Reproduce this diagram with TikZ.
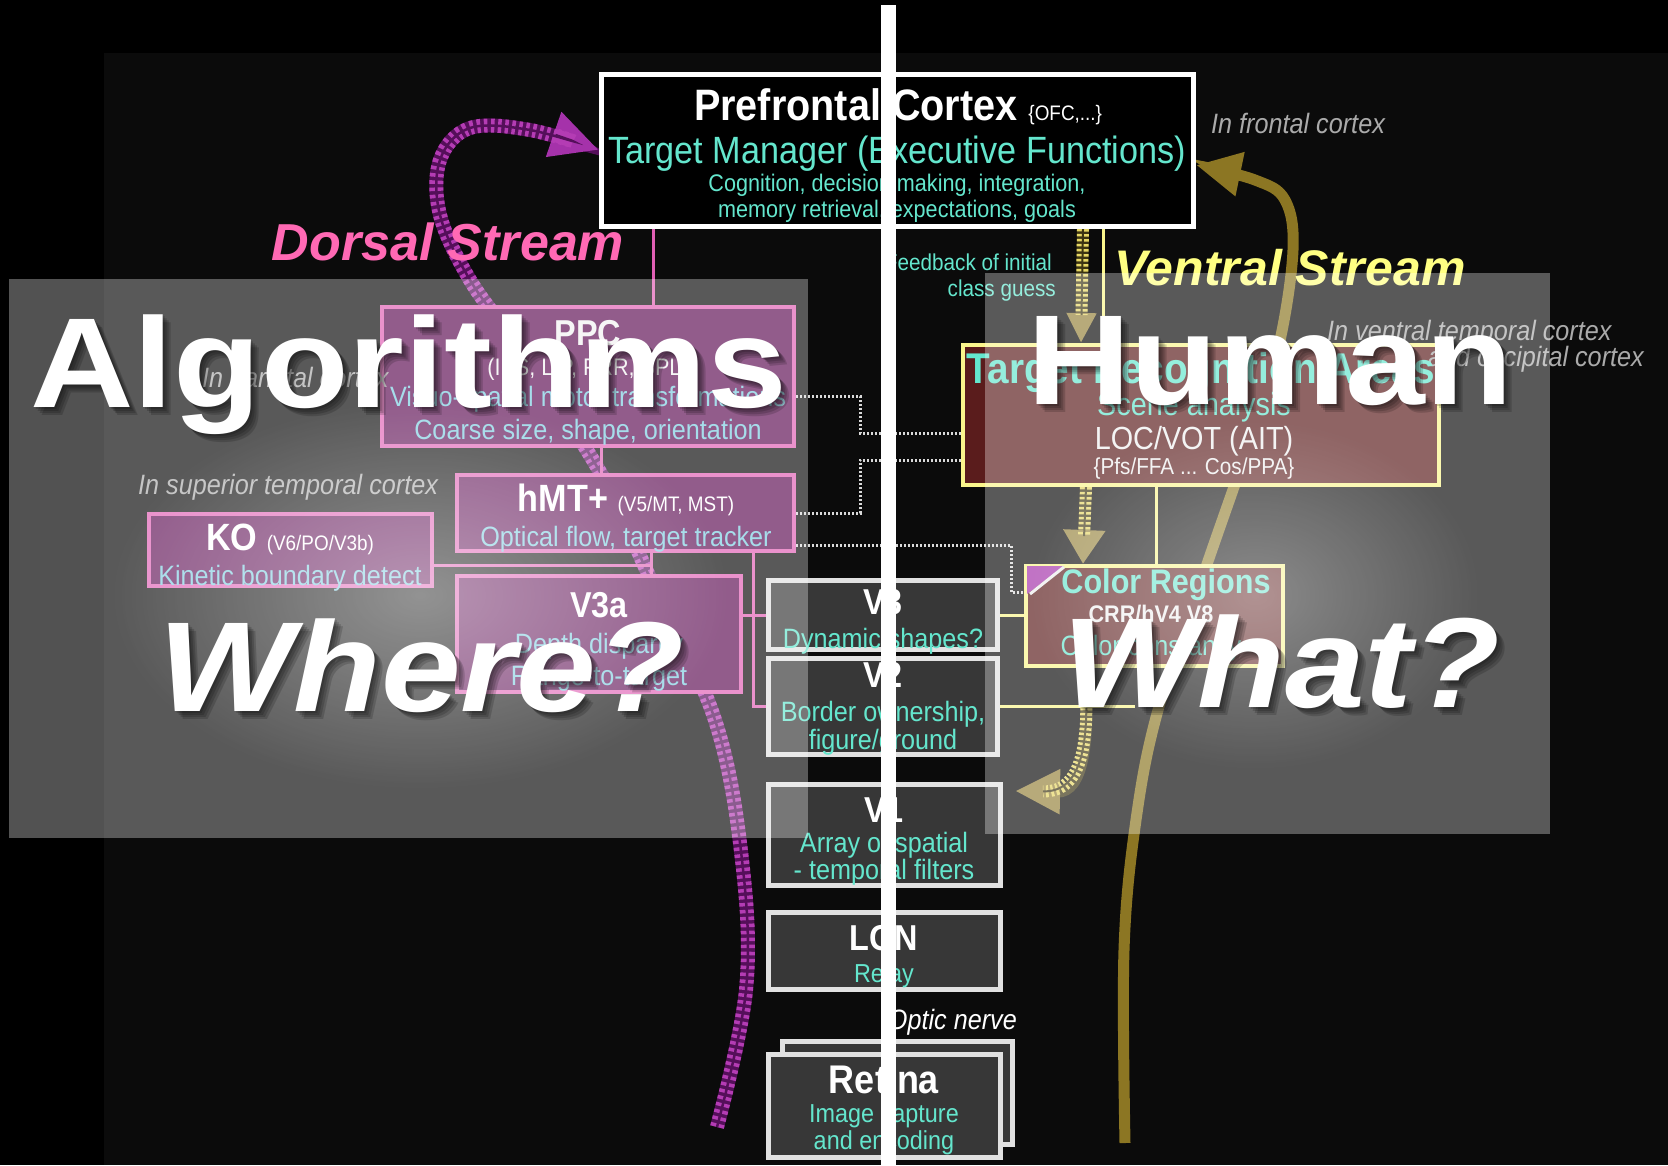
\documentclass[tikz,border=0pt]{standalone}
\usepackage{fontspec}
\setmainfont{Liberation Sans}
\newfontfamily\nar[FakeStretch=0.9]{Liberation Sans}
\newfontfamily\wide[FakeStretch=1.12]{Liberation Sans}
\usetikzlibrary{arrows.meta,fadings}
\pgfdeclarelayer{back}
\pgfdeclarelayer{over}
\pgfdeclarelayer{top}
\pgfsetlayers{back,main,over,top}
\newcommand\fsz[1]{\fontsize{#1}{#1}\selectfont}
\definecolor{slide}{RGB}{11,11,11}
\definecolor{pinkB}{RGB}{225,95,180}
\definecolor{pinkF}{RGB}{95,15,85}
\definecolor{pinkT}{RGB}{255,105,180}
\definecolor{yelB}{RGB}{250,245,140}
\definecolor{yelT}{RGB}{255,255,130}
\definecolor{marF}{RGB}{90,28,28}
\definecolor{grayF}{RGB}{55,55,55}
\definecolor{grayB}{RGB}{225,225,225}
\definecolor{cyanT}{RGB}{100,230,205}
\definecolor{lcyan}{RGB}{125,205,225}
\definecolor{labgray}{RGB}{170,170,170}
\definecolor{khaki}{RGB}{140,118,35}
\definecolor{khakiA}{RGB}{150,130,60}
\definecolor{magD}{RGB}{85,15,90}
\definecolor{magL}{RGB}{180,60,180}
\definecolor{magA}{RGB}{165,50,170}
\definecolor{stipD}{RGB}{60,52,18}
\definecolor{stipL}{RGB}{230,215,100}
\tikzfading[name=glowfade, inner color=transparent!0, outer color=transparent!100]
\tikzset{
  pbox/.style={draw=pinkB, fill=pinkF, line width=4pt, inner sep=0pt},
  vbox/.style={draw=grayB, fill=grayF, line width=5pt, inner sep=0pt},
  ybox/.style={draw=yelB, fill=marF, line width=4pt, inner sep=0pt},
  txt/.style={inner sep=0pt, anchor=mid},
  ttl/.style={txt, font=\nar\bfseries\fsz{36}, text=white},
  dsc/.style={txt, font=\nar\fsz{28}, text=cyanT},
  pdsc/.style={txt, font=\nar\fsz{28}, text=lcyan},
  lab/.style={inner sep=0pt, font=\nar\itshape\fsz{28}, text=labgray},
  pinkline/.style={draw=pinkB, line width=3pt},
  yline/.style={draw=yelB, line width=3pt},
  dotline/.style={draw=white!85!black, line width=3pt, dash pattern=on 2pt off 2pt},
  magstip/.style={draw=magD, line width=14pt,
    postaction={draw=magL, line width=14pt, arrows=-, dash pattern=on 3.5pt off 3.5pt, shorten >=46pt},
    postaction={draw=magD, line width=2.5pt, arrows=-, shorten >=46pt}},
  ystip/.style={draw=stipD, line width=12pt,
    postaction={draw=stipL, line width=12pt, arrows=-, dash pattern=on 2.5pt off 2.5pt, shorten >=28pt},
    postaction={draw=stipD, line width=2pt, arrows=-, shorten >=28pt}},
  bigw/.style={inner sep=0pt, anchor=base west, font=\wide\bfseries\fsz{128}},
}
\begin{document}
\begin{tikzpicture}[x=1pt, y=-1pt]
\useasboundingbox (0,0) rectangle (1668,1165);

% ---------- boxes ----------
\node[draw=white, fill=black, line width=5pt, minimum width=592pt, minimum height=152pt, inner sep=0pt] (pfc) at (897.5,150.5) {};
\node[pbox, minimum width=412pt, minimum height=139pt] (ppc) at (588,376.5) {};
\node[pbox, minimum width=337pt, minimum height=76pt] (hmt) at (625.5,513) {};
\node[pbox, minimum width=283pt, minimum height=72pt] (ko) at (290.5,550) {};
\node[pbox, minimum width=284pt, minimum height=116pt] (v3a) at (599,634) {};
\node[vbox, minimum width=229pt, minimum height=69pt] (v3) at (883,615) {};
\node[vbox, minimum width=229pt, minimum height=96pt] (v2) at (883,706.5) {};
\node[vbox, minimum width=232pt, minimum height=101pt] (v1) at (884.5,835) {};
\node[vbox, minimum width=232pt, minimum height=77pt] (lgn) at (884.5,951) {};
\node[vbox, minimum width=230pt, minimum height=103pt] (retb) at (897.5,1093) {};
\node[vbox, minimum width=232pt, minimum height=103pt] (ret) at (884.5,1106) {};
\node[ybox, minimum width=476pt, minimum height=140pt] (tra) at (1201,415) {};
\node[ybox, minimum width=257pt, minimum height=100pt] (col) at (1154.5,616) {};

% corner mark of the colour box
\fill[magA] (1027,566) -- (1064,566) -- (1027,594) -- cycle;
\draw[white!85!gray, line width=3pt] (1030,594) -- (1064,567);

% ---------- solid and dotted links ----------
\draw[pinkline] (pfc.south -| 653,0) -- (ppc.north -| 653,0);
\draw[pinkline] (ppc.south -| 601,0) -- (hmt.north -| 601,0);
\draw[pinkline] (hmt.south -| 651,0) -- (v3a.north -| 651,0);
\draw[pinkline] (ko.east |- 0,565) -- (651,565);
\draw[pinkline] (v3a.east |- 0,615) -- (v3.west |- 0,615);
\draw[pinkline] (hmt.south -| 753,0) -- (753,706) -- (v2.west |- 0,706);
\draw[yline] (pfc.south -| 1103,0) -- (tra.north -| 1103,0);
\draw[yline] (tra.south -| 1156,0) -- (col.north -| 1156,0);
\draw[yline] (v3.east |- 0,615) -- (col.west |- 0,615);
\coordinate (v2end) at (1135,706);
\draw[yline] (v2.east |- 0,706) -- (v2end);
\draw[dotline] (ppc.east |- 0,396) -- (860,396) -- (860,433) -- (tra.west |- 0,433);
\draw[dotline] (hmt.east |- 0,513) -- (860,513) -- (860,460) -- (tra.west |- 0,460);
\draw[dotline] (hmt.east |- 0,545) -- (1011,545) -- (1011,592) -- (col.west |- 0,592);

% ---------- texts ----------
\node[txt, font=\nar\bfseries\fsz{44}, text=white] (tpfc) at (898,118) {Prefrontal Cortex {\mdseries\fsz{21}\{OFC,...\}}};
\node[txt, font=\nar\fsz{38}, text=cyanT] (tman) at (897,161) {Target Manager (Executive Functions)};
\node[txt, font=\nar\fsz{24}, text=cyanT] (tcog) at (897,189) {Cognition, decision making, integration,};
\node[txt, font=\nar\fsz{24}, text=cyanT] (tmem) at (897,215) {memory retrieval, expectations, goals};
\node[lab, anchor=mid west] (lfront) at (1211,131) {In frontal cortex};

\node[txt, font=\bfseries\itshape\fsz{52}, text=pinkT] (dors) at (448,258) {Dorsal Stream};
\node[txt, font=\bfseries\itshape\fsz{50}, text=yelT] (vent) at (1290,283) {Ventral Stream};
\node[txt, anchor=mid east, font=\nar\fsz{23}, text=cyanT] (fb1) at (1052,268) {Feedback of initial};
\node[txt, anchor=mid east, font=\nar\fsz{23}, text=cyanT] (fb2) at (1056,294) {class guess};
\node[lab, anchor=mid west] (lvent1) at (1327,338) {In ventral temporal cortex};
\node[lab, anchor=mid east] (lvent2) at (1644,364) {and occipital cortex};
\node[lab, anchor=mid west] (lpar) at (202,385) {In parietal cortex};
\node[lab, anchor=mid west] (lsup) at (138,492) {In superior temporal cortex};

\node[ttl, text=white!90!gray] (tppc) at (588,343) {PPC};
\node[txt, font=\nar\fsz{24}, text=white!90!gray] (tppc2) at (588,373) {(IPS, LIP, PRR, SPL)};
\node[pdsc] (tppc3) at (588,404) {Visuo-spatial motor transformations};
\node[pdsc] (tppc4) at (588,437) {Coarse size, shape, orientation};
\node[ttl, font=\nar\bfseries\fsz{38}] (thmt) at (626,509) {hMT+ {\mdseries\fsz{21}(V5/MT, MST)}};
\node[pdsc] (thmt2) at (626,544) {Optical flow, target tracker};
\node[ttl, font=\nar\bfseries\fsz{38}] (tko) at (290,548) {KO {\mdseries\fsz{21}(V6/PO/V3b)}};
\node[pdsc] (tko2) at (290,583) {Kinetic boundary detect};
\node[ttl] (tv3a) at (599,615) {V3a};
\node[pdsc] (tv3a2) at (599,651) {Depth disparity};
\node[pdsc] (tv3a3) at (599,683) {Range-to-target};

\node[ttl] (tv3) at (883,612) {V3};
\node[dsc] (tv32) at (883,646) {Dynamic shapes?};
\node[ttl] (tv2) at (883,685) {V2};
\node[dsc] (tv22) at (883,719) {Border ownership,};
\node[dsc] (tv23) at (883,747) {figure/ground};
\node[ttl] (tv1) at (884,820) {V1};
\node[dsc] (tv12) at (884,850) {Array of spatial};
\node[dsc] (tv13) at (884,877) {- temporal filters};
\node[ttl] (tlgn) at (884,948) {LGN};
\node[dsc, font=\nar\fsz{26}] (tlgn2) at (884,980) {Relay};
\node[txt, anchor=mid east, font=\nar\itshape\fsz{28}, text=white] (optic) at (1017,1027) {Optic nerve};
\node[ttl, font=\nar\bfseries\fsz{40}] (tret) at (884,1091) {Retina};
\node[dsc, font=\nar\fsz{26}] (tret2) at (884,1120) {Image capture};
\node[dsc, font=\nar\fsz{26}] (tret3) at (884,1147) {and encoding};

\node[txt, font=\nar\bfseries\fsz{43}, text=cyanT] (ttra) at (1201,381) {Target Recognition Areas};
\node[txt, font=\nar\fsz{32}, text=cyanT] (ttra2) at (1194,413) {Scene analysis};
\node[txt, font=\nar\fsz{32}, text=white!88!gray] (ttra3) at (1194,447) {LOC/VOT (AIT)};
\node[txt, font=\nar\fsz{23}, text=white!88!gray] (ttra4) at (1194,472) {\{Pfs/FFA ... Cos/PPA\}};
\node[txt, font=\nar\bfseries\fsz{34}, text=cyanT] (tcol) at (1166,591) {Color Regions};
\node[txt, font=\nar\bfseries\fsz{24}, text=white!88!gray] (tcol2) at (1151,620) {CRR/hV4 V8};
\node[dsc] (tcol3) at (1151,653) {Color constancy};

% ---------- streams (behind the boxes) ----------
\begin{pgfonlayer}{back}
\fill[black] (0,0) rectangle (1668,1165);
\fill[slide] (104,53) rectangle (1668,1165);
\draw[khaki, line width=11pt, -{Triangle[length=45pt, width=42pt]}]
  plot[smooth, tension=0.6] coordinates {(1125,1143) (1124,950) (1136,820) (1158,710) (1205,570) (1250,440) (1279,345) (1293,250) (1285,200) (1255,180) (pfc.east |- 0,165)};
\draw[magstip, -{Triangle[length=48pt, width=44pt, color=magA]}]
  plot[smooth, tension=0.6] coordinates {(717,1127) (746,990) (742,860) (715,720) (650,578) (600,472) (520,350) (470,280) (440,215) (440,160) (470,128) (530,130) (pfc.west |- 0,150)};
\draw[ystip, -{Triangle[length=30pt, width=28pt, color=khakiA]}] (pfc.south -| 1083,0) -- (tra.north -| 1081,0);
\draw[ystip, -{Triangle[length=34pt, width=40pt, color=khakiA]}] (tra.south -| 1086,0) -- (col.north -| 1083,0);
\coordinate (fbtip) at (1015,791);
\draw[ystip, -{Triangle[length=45pt, width=42pt, color=khakiA]}] (col.south -| 1085,0) .. controls (1090,745) and (1082,792) .. (fbtip);
\end{pgfonlayer}

% ---------- translucent panels and headline words ----------
\begin{pgfonlayer}{over}
\fill[white, opacity=0.32] (8.5,279) rectangle (808,838);
\fill[white, opacity=0.32] (985,273) rectangle (1550,834);
\fill[white, opacity=0.35, path fading=glowfade] (110,400) rectangle (730,790);
\fill[white, opacity=0.3, path fading=glowfade] (1030,420) rectangle (1480,770);
\foreach \d in {2,4,6,8} {
  \node[bigw, text=black, opacity=0.16] (sa\d) at (30+\d,407+\d) {Algorithms};
  \node[bigw, text=black, opacity=0.16] (sh\d) at (1027+\d,404+\d) {Human};
  \node[bigw, font=\wide\bfseries\itshape\fsz{128}, text=black, opacity=0.16] (sw\d) at (158+\d,711+\d) {Where?};
  \node[bigw, font=\wide\bfseries\itshape\fsz{128}, text=black, opacity=0.16] (st\d) at (1062+\d,707+\d) {What?};
}
\node[bigw, text=white] (walg) at (30,407) {Algorithms};
\node[bigw, text=white] (whum) at (1027,404) {Human};
\node[bigw, font=\wide\bfseries\itshape\fsz{128}, text=white] (wwhere) at (158,711) {Where?};
\node[bigw, font=\wide\bfseries\itshape\fsz{128}, text=white] (wwhat) at (1062,707) {What?};
\end{pgfonlayer}

% ---------- dividing bar ----------
\begin{pgfonlayer}{top}
\fill[white] (881,5) rectangle (896,1165);
\end{pgfonlayer}
\end{tikzpicture}
\end{document}
